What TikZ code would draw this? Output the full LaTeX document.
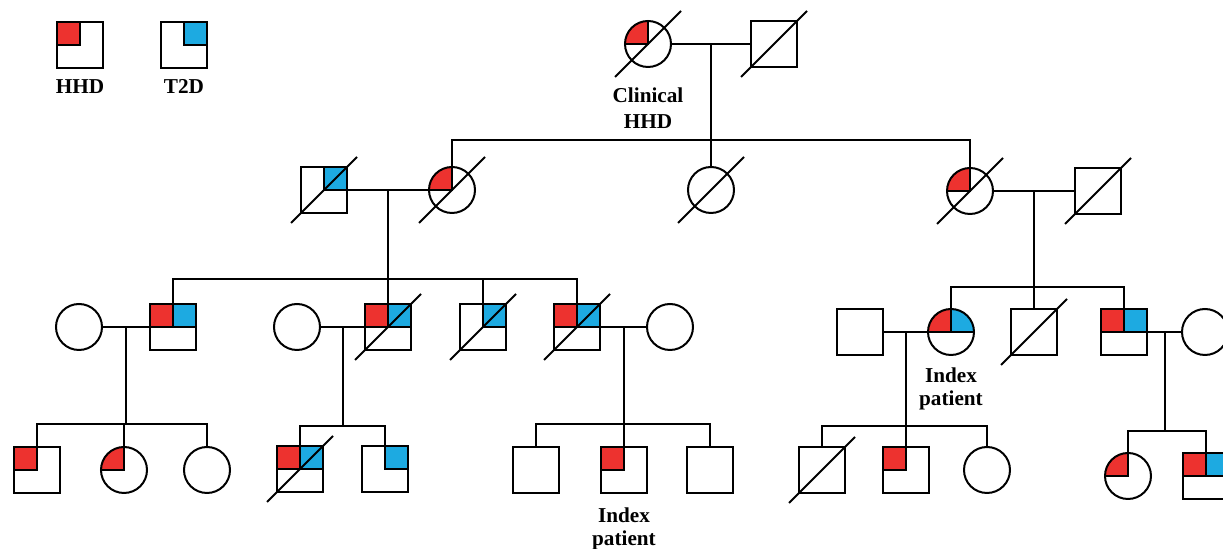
\documentclass[tikz,border=0pt]{standalone}
\usepackage{fontspec}
\setmainfont{Liberation Serif}
\usetikzlibrary{calc}
\definecolor{hhdred}{RGB}{237,50,47}
\definecolor{tdblue}{RGB}{29,170,225}
\tikzset{
  male/.style={draw, rectangle, minimum size=23pt, inner sep=0pt},
  female/.style={draw, circle, minimum size=23pt, inner sep=0pt},
  hhd/.style={path picture={
    \fill[hhdred] (path picture bounding box.center) rectangle (path picture bounding box.north west);
    \draw[line width=1pt] (path picture bounding box.west) -- (path picture bounding box.center) -- (path picture bounding box.north);}},
  t2d/.style={path picture={
    \fill[tdblue] (path picture bounding box.center) rectangle (path picture bounding box.north east);
    \draw[line width=1pt] (path picture bounding box.east) -- (path picture bounding box.center) -- (path picture bounding box.north);}},
  both/.style={path picture={
    \fill[hhdred] (path picture bounding box.center) rectangle (path picture bounding box.north west);
    \fill[tdblue] (path picture bounding box.center) rectangle (path picture bounding box.north east);
    \draw[line width=1pt] (path picture bounding box.west) -- (path picture bounding box.east)
      (path picture bounding box.center) -- (path picture bounding box.north);}},
  lbl/.style={font=\bfseries\fontsize{10.6}{11.2}\selectfont, align=center, inner sep=0pt}
}
\begin{document}
\begin{tikzpicture}[x=0.5pt, y=-0.5pt, line width=1pt]
\useasboundingbox (0,0) rectangle (1223,549);
% Legend
\node[male, hhd] (keyhhd) at (80,45) {};
\node[male, t2d] (keyt2d) at (184,45) {};
\node[lbl] (keyhhdtxt) at (80,87) {HHD};
\node[lbl] (keyt2dtxt) at (184,87) {T2D};
% Generation I
\node[female, hhd] (i1) at (648,44) {};
\node[male] (i2) at (774,44) {};
\node[lbl, font=\bfseries\fontsize{10.6}{13}\selectfont] (clin) at (648,108) {Clinical\\HHD};
% Generation II
\node[male, t2d] (ii1) at (324,190) {};
\node[female, hhd] (ii2) at (452,190) {};
\node[female] (ii3) at (711,190) {};
\node[female, hhd] (ii4) at (970,191) {};
\node[male] (ii5) at (1098,191) {};
% Generation III
\node[female] (iii1) at (79,327) {};
\node[male, both] (iii2) at (173,327) {};
\node[female] (iii3) at (297,327) {};
\node[male, both] (iii4) at (388,327) {};
\node[male, t2d] (iii5) at (483,327) {};
\node[male, both] (iii6) at (577,327) {};
\node[female] (iii7) at (670,327) {};
\node[male] (iii8) at (860,332) {};
\node[female, both] (iii9) at (951,332) {};
\node[male] (iii10) at (1034,332) {};
\node[male, both] (iii11) at (1124,332) {};
\node[female] (iii12) at (1205,332) {};
\node[lbl] (index1) at (951,389) {Index\\patient};
% Generation IV
\node[male, hhd] (iv1) at (37,470) {};
\node[female, hhd] (iv2) at (124,470) {};
\node[female] (iv3) at (207,470) {};
\node[male, both] (iv4) at (300,469) {};
\node[male, t2d] (iv5) at (385,469) {};
\node[male] (iv6) at (536,470) {};
\node[male, hhd] (iv7) at (624,470) {};
\node[male] (iv8) at (710,470) {};
\node[male] (iv9) at (822,470) {};
\node[male, hhd] (iv10) at (906,470) {};
\node[female] (iv11) at (987,470) {};
\node[female, hhd] (iv12) at (1128,476) {};
\node[male, both] (iv13) at (1206,476) {};
\node[lbl] (index2) at (624,529) {Index\\patient};
% Deceased
\foreach \n in {i1,i2,ii1,ii2,ii3,ii4,ii5,iii4,iii5,iii6,iii10,iv4,iv9} {
  \draw (\n.center) ++(-33,33) -- ++(66,-66);
}
% Couples and descent lines
\foreach \a/\b/\m/\y in {i1/i2/m1/140, ii1/ii2/m2/279, ii4/ii5/m3/287,
    iii1/iii2/m4/424, iii3/iii4/m5/426, iii6/iii7/m6/424, iii8/iii9/m7/426, iii11/iii12/m8/431} {
  \draw (\a.east) -- (\b.west);
  \coordinate (\m) at ($(\a.east)!0.5!(\b.west)$);
  \coordinate (s\m) at (\m |- 0,\y);
  \draw (\m) -- (s\m);
}
\draw (m1) -- (m1 |- ii3.north);
% Sibships
\draw (ii2.north) -- (ii2.north |- sm1) -- (ii4.north |- sm1) -- (ii4.north);
\draw (iii2.north) -- (iii2.north |- sm2) -- (iii6.north |- sm2) -- (iii6.north);
\draw (iii4.north) -- (iii4.north |- sm2);
\draw (iii5.north) -- (iii5.north |- sm2);
\draw (iii9.north) -- (iii9.north |- sm3) -- (iii11.north |- sm3) -- (iii11.north);
\draw (iii10.north) -- (iii10.north |- sm3);
\draw (iv1.north) -- (iv1.north |- sm4) -- (iv3.north |- sm4) -- (iv3.north);
\draw (iv2.north) -- (iv2.north |- sm4);
\draw (iv4.north) -- (iv4.north |- sm5) -- (iv5.north |- sm5) -- (iv5.north);
\draw (iv6.north) -- (iv6.north |- sm6) -- (iv8.north |- sm6) -- (iv8.north);
\draw (iv7.north) -- (iv7.north |- sm6);
\draw (iv9.north) -- (iv9.north |- sm7) -- (iv11.north |- sm7) -- (iv11.north);
\draw (iv10.north) -- (iv10.north |- sm7);
\draw (iv12.north) -- (iv12.north |- sm8) -- (iv13.north |- sm8) -- (iv13.north);
\end{tikzpicture}
\end{document}
